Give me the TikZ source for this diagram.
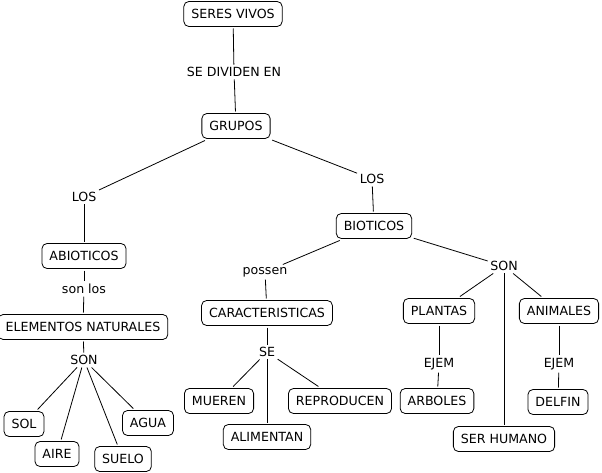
\documentclass[tikz,border=0pt]{standalone}
\usepackage{fontspec}
\setmainfont{DejaVu Sans}
\tikzset{
  concept/.style={draw, rectangle, rounded corners=5pt, line width=0.8pt, minimum height=25pt, inner xsep=7.5pt, outer sep=2pt, font=\fontsize{12.6}{14}\selectfont},
  phrase/.style={inner sep=2.5pt, font=\fontsize{12.6}{14}\selectfont},
  link/.style={line width=0.8pt}
}
\begin{document}
\begin{tikzpicture}[x=1pt, y=-1pt]
	\useasboundingbox (0,0) rectangle (602,473);
	\node[concept] (seres)at(233, 14) {SERES VIVOS};
	\node[phrase] (dividen)at(234, 72) {SE DIVIDEN EN};
	\node[concept] (grupos)at(236, 126) {GRUPOS};
	\node[phrase] (losA)at(84, 197) {LOS};
	\node[phrase] (losB)at(372, 179) {LOS};
	\node[concept] (abioticos)at(84, 256) {ABIOTICOS};
	\node[phrase] (sonlos)at(84, 289) {son los};
	\node[concept] (elementos)at(83, 327) {ELEMENTOS NATURALES};
	\node[phrase] (sonA)at(84, 360) {SON};
	\node[concept] (sol)at(24, 424) {SOL};
	\node[concept] (aire)at(57, 454) {AIRE};
	\node[concept] (suelo)at(123, 459) {SUELO};
	\node[concept] (agua)at(148, 423) {AGUA};
	\node[concept] (bioticos)at(374, 226) {BIOTICOS};
	\node[phrase] (possen)at(265, 272) {possen};
	\node[concept] (caracteristicas)at(267, 313) {CARACTERISTICAS};
	\node[phrase] (se)at(267, 352) {SE};
	\node[concept] (mueren)at(219, 401) {MUEREN};
	\node[concept] (reproducen)at(340, 401) {REPRODUCEN};
	\node[concept] (alimentan)at(267, 437) {ALIMENTAN};
	\node[phrase] (sonB)at(504, 266) {SON};
	\node[concept] (plantas)at(439, 311) {PLANTAS};
	\node[concept] (animales)at(559, 311) {ANIMALES};
	\node[phrase] (ejemA)at(439, 364) {EJEM};
	\node[phrase] (ejemB)at(559, 364) {EJEM};
	\node[concept] (arboles)at(437, 401) {ARBOLES};
	\node[concept] (delfin)at(558, 402) {DELFIN};
	\node[concept] (humano)at(504, 439) {SER HUMANO};
	\draw[link] (seres) -- (dividen);
	\draw[link] (dividen) -- (grupos);
	\draw[link] (grupos) -- (losA);
	\draw[link] (losA) -- (abioticos);
	\draw[link] (abioticos) -- (sonlos);
	\draw[link] (sonlos) -- (elementos);
	\draw[link] (elementos) -- (sonA);
	\draw[link] (sonA) -- (sol);
	\draw[link] (sonA) -- (aire);
	\draw[link] (sonA) -- (suelo);
	\draw[link] (sonA) -- (agua);
	\draw[link] (grupos) -- (losB);
	\draw[link] (losB) -- (bioticos);
	\draw[link] (bioticos) -- (possen);
	\draw[link] (possen) -- (caracteristicas);
	\draw[link] (caracteristicas) -- (se);
	\draw[link] (se) -- (mueren);
	\draw[link] (se) -- (alimentan);
	\draw[link] (se) -- (reproducen);
	\draw[link] (bioticos) -- (sonB);
	\draw[link] (sonB) -- (plantas);
	\draw[link] (sonB) -- (humano);
	\draw[link] (sonB) -- (animales);
	\draw[link] (plantas) -- (ejemA);
	\draw[link] (ejemA) -- (arboles);
	\draw[link] (animales) -- (ejemB);
	\draw[link] (ejemB) -- (delfin);
\end{tikzpicture}
\end{document}
